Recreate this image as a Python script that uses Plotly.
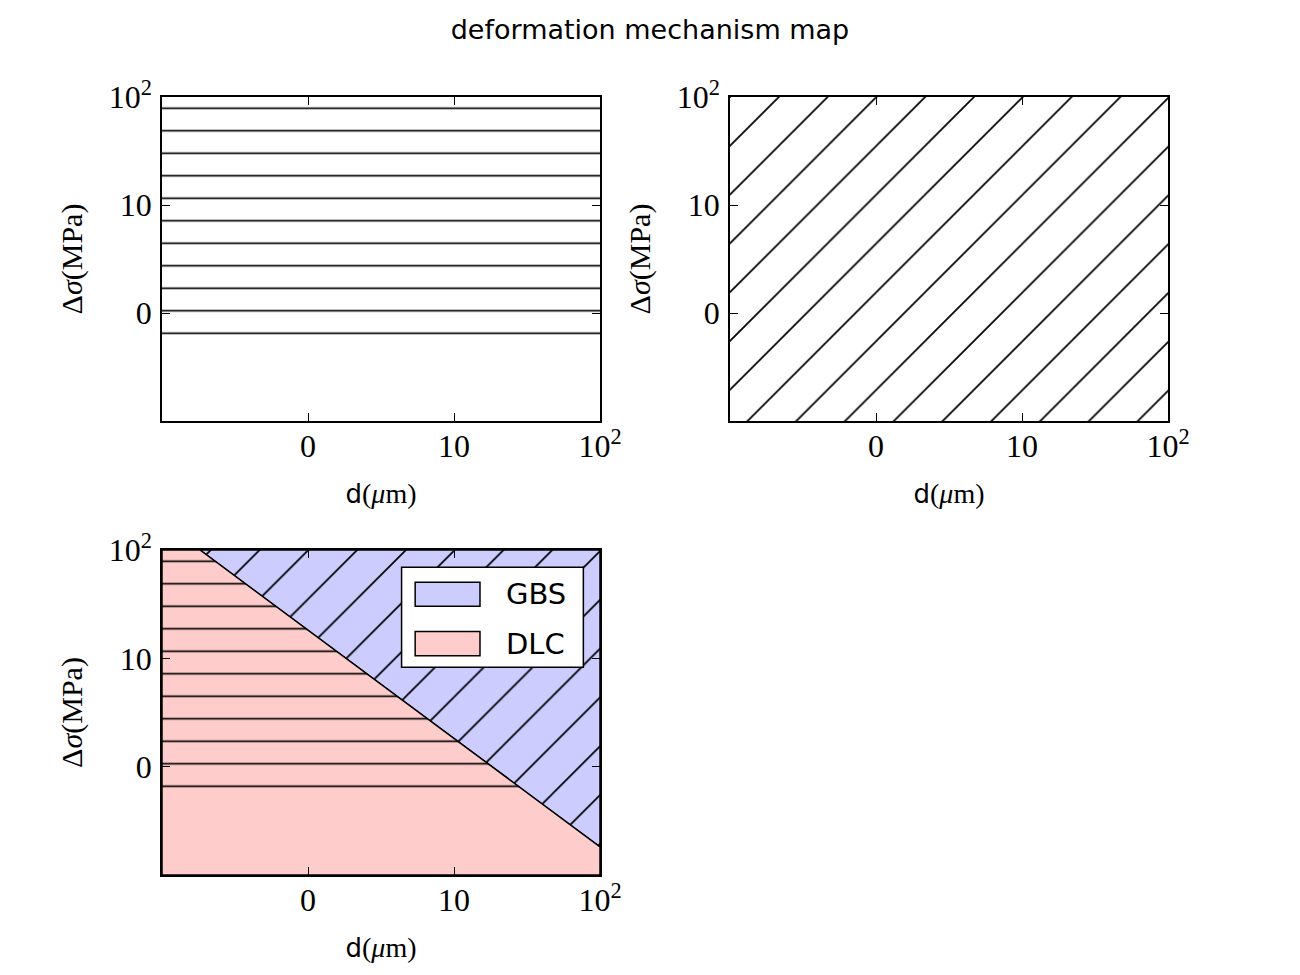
import numpy as np
import plotly.graph_objects as go

# ---------------- data ----------------
axis_range = [-1, 2]                      # both axes (log-decade positions)
tick_vals = [0, 1, 2]
tick_text = ["0", "10", "10<sup>2</sup>"]

# mechanism boundary between GBS (above) and DLC (below)
boundary_x = [-0.74, 2.0]
boundary_y = [2.0, -0.74]

hatch_floor = -0.22                       # lowest level reached by the '-' hatch

mechanisms = ["GBS", "DLC"]
mech_colors = {"GBS": "#ccccff", "DLC": "#ffcccc"}

title_text = "deformation mechanism map"
xlabel = "d<span style='font-family:Liberation Serif;font-size:28px'>(<i>μ</i>m)</span>"
ylabel = "Δ<i>σ</i>(MPa)"

# ---------------- geometry from data ----------------
lo, hi = axis_range
x_floor = float(np.interp(hatch_floor, boundary_y[::-1], boundary_x[::-1]))

gbs_x = [boundary_x[0], hi, hi, boundary_x[0]]
gbs_y = [hi, hi, boundary_y[1], hi]
dlc_x = [lo, boundary_x[0], boundary_x[1], hi, lo, lo]
dlc_y = [hi, boundary_y[0], boundary_y[1], lo, lo, hi]
dlc_hatch_x = [lo, boundary_x[0], x_floor, lo, lo]
dlc_hatch_y = [hi, boundary_y[0], hatch_floor, hatch_floor, hi]

box_x = [lo, hi, hi, lo, lo]
box_y_floor = [hi, hi, hatch_floor, hatch_floor, hi]
box_y_full = [hi, hi, lo, lo, hi]

H_PAT = dict(shape="-", size=22.5, solidity=0.075, fgcolor="black",
             bgcolor="rgba(0,0,0,0)")
D_PAT = dict(shape="/", size=34.5, solidity=0.05, fgcolor="black",
             bgcolor="rgba(0,0,0,0)")

fig = go.Figure()

# top-left: horizontal hatch
fig.add_trace(go.Scatter(x=box_x, y=box_y_floor, fill="toself", mode="lines",
                         line=dict(width=0), fillcolor="rgba(0,0,0,0)",
                         fillpattern=H_PAT, showlegend=False, hoverinfo="skip",
                         xaxis="x", yaxis="y"))
# top-right: diagonal hatch
fig.add_trace(go.Scatter(x=box_x, y=box_y_full, fill="toself", mode="lines",
                         line=dict(width=0), fillcolor="rgba(0,0,0,0)",
                         fillpattern=D_PAT, showlegend=False, hoverinfo="skip",
                         xaxis="x2", yaxis="y2"))

# bottom-left: mechanism regions
fig.add_trace(go.Scatter(x=gbs_x, y=gbs_y, fill="toself", mode="lines",
                         line=dict(color="black", width=1.5),
                         fillcolor=mech_colors["GBS"], name="GBS", showlegend=False,
                         xaxis="x3", yaxis="y3"))
fig.add_trace(go.Scatter(x=dlc_x, y=dlc_y, fill="toself", mode="lines",
                         line=dict(color="black", width=1.5),
                         fillcolor=mech_colors["DLC"], name="DLC", showlegend=False,
                         xaxis="x3", yaxis="y3"))
fig.add_trace(go.Scatter(x=gbs_x, y=gbs_y, fill="toself", mode="lines",
                         line=dict(width=0), fillcolor="rgba(0,0,0,0)",
                         fillpattern=D_PAT, showlegend=False, hoverinfo="skip",
                         xaxis="x3", yaxis="y3"))
fig.add_trace(go.Scatter(x=dlc_hatch_x, y=dlc_hatch_y, fill="toself", mode="lines",
                         line=dict(width=0), fillcolor="rgba(0,0,0,0)",
                         fillpattern=H_PAT, showlegend=False, hoverinfo="skip",
                         xaxis="x3", yaxis="y3"))

W, Hh = 1300, 975

tickfont = dict(family="Liberation Serif", size=32, color="black")
labfont = dict(family="DejaVu Sans", size=26, color="black")
serif_lab = dict(family="Liberation Serif", size=30, color="black")

def xax(domain, anchor):
    return dict(domain=domain, anchor=anchor, range=axis_range, tickmode="array",
                tickvals=tick_vals, ticktext=tick_text, ticks="inside", ticklen=8,
                tickwidth=1, tickcolor="black", showline=True, linecolor="black",
                linewidth=1.5, mirror="ticks", showgrid=False, zeroline=False,
                tickfont=tickfont, fixedrange=True, automargin=False,
                ticklabelstandoff=-4,
                title=dict(text=xlabel, font=labfont, standoff=22))

def yax(domain, anchor):
    return dict(domain=domain, anchor=anchor, range=axis_range, tickmode="array",
                tickvals=tick_vals, ticktext=tick_text, ticks="inside", ticklen=8,
                tickwidth=1, tickcolor="black", showline=True, linecolor="black",
                linewidth=1.5, mirror="ticks", showgrid=False, zeroline=False,
                tickfont=tickfont, fixedrange=True, automargin=False,
                ticklabelstandoff=2,
                title=dict(text=ylabel, font=serif_lab, standoff=17))

xd_left = [162 / W, 600 / W]
xd_right = [730 / W, 1168 / W]
yd_top = [1 - 421 / Hh, 1 - 97 / Hh]
yd_bot = [1 - 875 / Hh, 1 - 550 / Hh]

# legend box (inside bottom-left axes, upper right), built from mechanisms
shapes = [dict(type="rect", xref="x3 domain", yref="y3 domain",
               x0=0.547, x1=0.962, y0=0.639, y1=0.947,
               fillcolor="white", line=dict(color="black", width=1.5), layer="above")]
annotations = []
sw_top = [0.901, 0.749]
for i, m in enumerate(mechanisms):
    shapes.append(dict(type="rect", xref="x3 domain", yref="y3 domain",
                       x0=0.578, x1=0.726, y0=sw_top[i] - 0.074, y1=sw_top[i],
                       fillcolor=mech_colors[m], line=dict(color="black", width=1.5),
                       layer="above"))
    annotations.append(dict(text=m, xref="x3 domain", yref="y3 domain",
                            x=0.78, y=sw_top[i] - 0.037, xanchor="left",
                            yanchor="middle", showarrow=False,
                            font=dict(family="DejaVu Sans", size=29, color="black")))

fig.update_layout(
    template="none",
    width=W, height=Hh,
    margin=dict(l=0, r=0, t=0, b=0),
    paper_bgcolor="white", plot_bgcolor="rgba(0,0,0,0)",
    title=dict(text=title_text, x=0.5, xanchor="center", y=1 - 30 / Hh,
               yanchor="middle", font=dict(family="DejaVu Sans", size=27, color="black")),
    xaxis=xax(xd_left, "y"), yaxis=yax(yd_top, "x"),
    xaxis2=xax(xd_right, "y2"), yaxis2=yax(yd_top, "x2"),
    xaxis3=xax(xd_left, "y3"), yaxis3=yax(yd_bot, "x3"),
    showlegend=False,
    shapes=shapes,
    annotations=annotations,
)

fig.write_html("out.html",
               config={"displayModeBar": False},
               post_script="document.body.style.margin='0px';"
                           "document.body.style.overflow='hidden';")
